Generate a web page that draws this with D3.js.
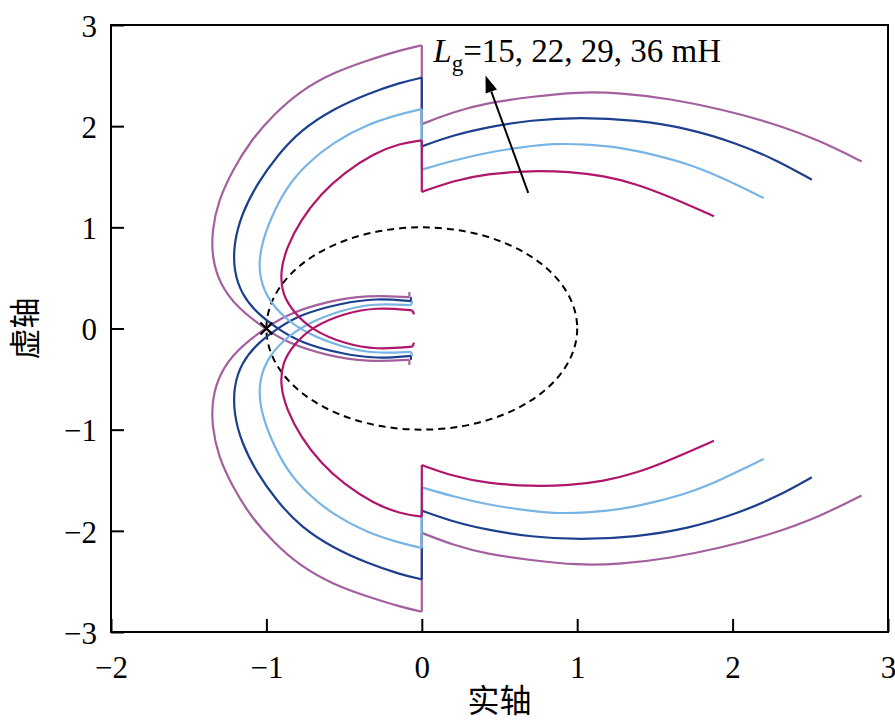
<!DOCTYPE html>
<html>
<head>
<meta charset="utf-8">
<script src="https://cdn.jsdelivr.net/npm/d3@7"></script>
<style>
  body { margin: 0; background: #fff; }
  svg { display: block; }
</style>
</head>
<body>
<div id="chart"></div>
<script>
var width = 895;
var height = 723;

var xTicks = [-2, -1, 0, 1, 2, 3];
var yTicks = [-3, -2, -1, 0, 1, 2, 3];
var xTitle = '实轴';
var yTitle = '虚轴';
var lgValues = [15, 22, 29, 36];
var lineColors = ['#b0156a', '#78b4e4', '#1c3f8e', '#a4609e'];

// positive-frequency branch, right of the jump (ends at x = 0)
var rightUpper15 = [[1.88, 1.11], [1.60, 1.30], [1.38, 1.43], [1.17, 1.51], [0.95, 1.55], [0.70, 1.56], [0.42, 1.53], [0.20, 1.46], [0.00, 1.35]];
var rightUpper22 = [[2.20, 1.29], [1.92, 1.50], [1.71, 1.63], [1.49, 1.72], [1.28, 1.79], [1.06, 1.82], [0.85, 1.83], [0.63, 1.79], [0.42, 1.74], [0.20, 1.66], [0.00, 1.57]];
var rightUpper29 = [[2.51, 1.47], [2.29, 1.66], [2.03, 1.83], [1.71, 1.98], [1.38, 2.06], [1.02, 2.09], [0.70, 2.06], [0.42, 1.99], [0.20, 1.91], [0.00, 1.80]];
var rightUpper36 = [[2.83, 1.65], [2.56, 1.86], [2.24, 2.04], [1.92, 2.17], [1.60, 2.27], [1.28, 2.33], [1.00, 2.34], [0.70, 2.29], [0.42, 2.23], [0.20, 2.14], [0.00, 2.02]];

// positive-frequency branch, left of the jump (starts at x = 0), last point is the small end hook
var leftUpper15 = [[0.00, 1.86], [-0.14, 1.83], [-0.31, 1.73], [-0.50, 1.54], [-0.65, 1.33], [-0.78, 1.07], [-0.87, 0.80], [-0.91, 0.57], [-0.90, 0.34], [-0.82, 0.15], [-0.70, -0.02], [-0.50, -0.15], [-0.29, -0.21], [-0.06, -0.18], [-0.05, -0.14]];
var leftUpper22 = [[0.00, 2.17], [-0.14, 2.12], [-0.35, 2.02], [-0.57, 1.84], [-0.74, 1.63], [-0.87, 1.40], [-0.97, 1.10], [-1.04, 0.80], [-1.05, 0.54], [-1.00, 0.31], [-0.89, 0.11], [-0.74, -0.05], [-0.52, -0.18], [-0.31, -0.25], [-0.07, -0.23], [-0.06, -0.27]];
var leftUpper29 = [[0.00, 2.48], [-0.14, 2.43], [-0.35, 2.32], [-0.57, 2.17], [-0.78, 1.96], [-0.93, 1.71], [-1.06, 1.43], [-1.16, 1.13], [-1.21, 0.84], [-1.21, 0.57], [-1.16, 0.34], [-1.06, 0.15], [-0.93, 0.00], [-0.78, -0.14], [-0.52, -0.25], [-0.29, -0.30], [-0.07, -0.27], [-0.07, -0.31]];
var leftUpper36 = [[0.00, 2.80], [-0.14, 2.75], [-0.35, 2.65], [-0.57, 2.53], [-0.78, 2.35], [-0.95, 2.12], [-1.10, 1.86], [-1.22, 1.56], [-1.31, 1.26], [-1.35, 0.97], [-1.35, 0.70], [-1.30, 0.44], [-1.19, 0.21], [-1.02, 0.01], [-0.87, -0.14], [-0.61, -0.27], [-0.35, -0.33], [-0.08, -0.31], [-0.08, -0.36]];

// negative-frequency branch (conjugate)
var rightLower15 = [[1.88, -1.11], [1.60, -1.30], [1.38, -1.43], [1.17, -1.51], [0.95, -1.55], [0.70, -1.56], [0.42, -1.53], [0.20, -1.46], [0.00, -1.35]];
var rightLower22 = [[2.20, -1.29], [1.92, -1.50], [1.71, -1.63], [1.49, -1.72], [1.28, -1.79], [1.06, -1.82], [0.85, -1.83], [0.63, -1.79], [0.42, -1.74], [0.20, -1.66], [0.00, -1.57]];
var rightLower29 = [[2.51, -1.47], [2.29, -1.66], [2.03, -1.83], [1.71, -1.98], [1.38, -2.06], [1.02, -2.09], [0.70, -2.06], [0.42, -1.99], [0.20, -1.91], [0.00, -1.80]];
var rightLower36 = [[2.83, -1.65], [2.56, -1.86], [2.24, -2.04], [1.92, -2.17], [1.60, -2.27], [1.28, -2.33], [1.00, -2.34], [0.70, -2.29], [0.42, -2.23], [0.20, -2.14], [0.00, -2.02]];

var leftLower15 = [[0.00, -1.86], [-0.14, -1.83], [-0.31, -1.73], [-0.50, -1.54], [-0.65, -1.33], [-0.78, -1.07], [-0.87, -0.80], [-0.91, -0.57], [-0.90, -0.34], [-0.82, -0.15], [-0.70, 0.02], [-0.50, 0.15], [-0.29, 0.21], [-0.06, 0.18], [-0.05, 0.14]];
var leftLower22 = [[0.00, -2.17], [-0.14, -2.12], [-0.35, -2.02], [-0.57, -1.84], [-0.74, -1.63], [-0.87, -1.40], [-0.97, -1.10], [-1.04, -0.80], [-1.05, -0.54], [-1.00, -0.31], [-0.89, -0.11], [-0.74, 0.05], [-0.52, 0.18], [-0.31, 0.25], [-0.07, 0.23], [-0.06, 0.27]];
var leftLower29 = [[0.00, -2.48], [-0.14, -2.43], [-0.35, -2.32], [-0.57, -2.17], [-0.78, -1.96], [-0.93, -1.71], [-1.06, -1.43], [-1.16, -1.13], [-1.21, -0.84], [-1.21, -0.57], [-1.16, -0.34], [-1.06, -0.15], [-0.93, 0.00], [-0.78, 0.14], [-0.52, 0.25], [-0.29, 0.30], [-0.07, 0.27], [-0.07, 0.31]];
var leftLower36 = [[0.00, -2.80], [-0.14, -2.75], [-0.35, -2.65], [-0.57, -2.53], [-0.78, -2.35], [-0.95, -2.12], [-1.10, -1.86], [-1.22, -1.56], [-1.31, -1.26], [-1.35, -0.97], [-1.35, -0.70], [-1.30, -0.44], [-1.19, -0.21], [-1.02, -0.01], [-0.87, 0.14], [-0.61, 0.27], [-0.35, 0.33], [-0.08, 0.31], [-0.08, 0.36]];

var unitCircleRadius = 1;
var criticalPoint = [-1, 0];
var arrowFrom = [0.685, 1.34];
var arrowTo = [0.41, 2.50];
var labelPos = [0.074, 2.63];

var curves = [
  { right: [rightUpper15, rightLower15], left: [leftUpper15, leftLower15] },
  { right: [rightUpper22, rightLower22], left: [leftUpper22, leftLower22] },
  { right: [rightUpper29, rightLower29], left: [leftUpper29, leftLower29] },
  { right: [rightUpper36, rightLower36], left: [leftUpper36, leftLower36] }
];

var margin = { top: 25, right: 7, bottom: 91, left: 111 };
var serif = '"Liberation Serif", "Times New Roman", serif';
var cjk = '"Noto Sans CJK SC", sans-serif';

var svg = d3.select('#chart')
  .append('svg')
  .attr('width', width)
  .attr('height', height);

svg.append('rect').attr('width', width).attr('height', height).attr('fill', '#fff');

var x = d3.scaleLinear().domain([-2, 3]).range([margin.left, width - margin.right]);
var y = d3.scaleLinear().domain([-3, 3]).range([height - margin.bottom, margin.top]);

var smooth = d3.line()
  .x(function(d) { return x(d[0]); })
  .y(function(d) { return y(d[1]); })
  .curve(d3.curveBasis);
var straight = d3.line()
  .x(function(d) { return x(d[0]); })
  .y(function(d) { return y(d[1]); });

// unit circle
svg.append('ellipse')
  .attr('cx', x(0))
  .attr('cy', y(0))
  .attr('rx', x(unitCircleRadius) - x(0))
  .attr('ry', y(0) - y(unitCircleRadius))
  .attr('fill', 'none')
  .attr('stroke', '#000')
  .attr('stroke-width', 2)
  .attr('stroke-dasharray', '7,5');

// curves, drawn outermost first
curves.slice().reverse().forEach(function(c, i) {
  var color = lineColors[lineColors.length - 1 - i];
  var g = svg.append('g')
    .attr('fill', 'none')
    .attr('stroke', color)
    .attr('stroke-width', 2.2)
    .attr('stroke-linejoin', 'round');
  [0, 1].forEach(function(k) {
    var r = c.right[k];
    var l = c.left[k];
    g.append('path').attr('d', smooth(r));
    g.append('path').attr('d', straight([r[r.length - 1], l[0]]));
    g.append('path').attr('d', smooth(l.slice(0, l.length - 1)));
    g.append('path').attr('d', straight(l.slice(l.length - 2)));
  });
});

// critical point marker
var cx = x(criticalPoint[0]);
var cy = y(criticalPoint[1]);
svg.append('path')
  .attr('d', 'M' + (cx - 6) + ',' + (cy - 6) + 'L' + (cx + 6) + ',' + (cy + 6) +
             'M' + (cx - 6) + ',' + (cy + 6) + 'L' + (cx + 6) + ',' + (cy - 6))
  .attr('stroke', '#000')
  .attr('stroke-width', 2.2);

// frame
svg.append('rect')
  .attr('x', x(-2))
  .attr('y', y(3))
  .attr('width', x(3) - x(-2))
  .attr('height', y(-3) - y(3))
  .attr('fill', 'none')
  .attr('stroke', '#000')
  .attr('stroke-width', 2);

function fmt(v) { return v < 0 ? '\u2212' + Math.abs(v) : String(v); }

var xAxis = d3.axisBottom(x).tickValues(xTicks).tickSize(-13).tickPadding(24).tickFormat(fmt);
var yAxis = d3.axisLeft(y).tickValues(yTicks).tickSize(-13).tickPadding(14).tickFormat(fmt);

var gx = svg.append('g').attr('transform', 'translate(0,' + y(-3) + ')').call(xAxis);
var gy = svg.append('g').attr('transform', 'translate(' + x(-2) + ',0)').call(yAxis);
[gx, gy].forEach(function(g) {
  g.select('.domain').remove();
  g.selectAll('.tick line').attr('stroke', '#000').attr('stroke-width', 2);
  g.selectAll('.tick text')
    .attr('fill', '#000')
    .style('font-family', serif)
    .style('font-size', '31px');
});
gy.selectAll('.tick text').attr('dy', '0.36em');

// axis titles
svg.append('text')
  .attr('x', (x(-2) + x(3)) / 2)
  .attr('y', 712)
  .attr('text-anchor', 'middle')
  .style('font-family', cjk)
  .style('font-size', '32px')
  .text(xTitle);

svg.append('text')
  .attr('transform', 'translate(36,' + y(0) + ') rotate(-90)')
  .attr('text-anchor', 'middle')
  .style('font-family', cjk)
  .style('font-size', '31px')
  .text(yTitle);

// annotation
var label = svg.append('text')
  .attr('x', x(labelPos[0]))
  .attr('y', y(labelPos[1]))
  .style('font-family', serif)
  .style('font-size', '33px');
label.append('tspan').style('font-style', 'italic').text('L');
label.append('tspan').attr('dy', 9).style('font-size', '23px').text('g');
label.append('tspan').attr('dy', -9).text('=' + lgValues.join(', ') + ' mH');

var ax1 = x(arrowFrom[0]), ay1 = y(arrowFrom[1]);
var ax2 = x(arrowTo[0]), ay2 = y(arrowTo[1]);
var ang = Math.atan2(ay2 - ay1, ax2 - ax1);
var headLen = 17, headW = 6;
var bx = ax2 - headLen * Math.cos(ang), by = ay2 - headLen * Math.sin(ang);
svg.append('line')
  .attr('x1', ax1).attr('y1', ay1)
  .attr('x2', bx).attr('y2', by)
  .attr('stroke', '#000')
  .attr('stroke-width', 2);
svg.append('path')
  .attr('d', 'M' + ax2 + ',' + ay2 +
    'L' + (bx + headW * Math.sin(ang)) + ',' + (by - headW * Math.cos(ang)) +
    'L' + (bx - headW * Math.sin(ang)) + ',' + (by + headW * Math.cos(ang)) + 'Z')
  .attr('fill', '#000');
</script>
</body>
</html>
